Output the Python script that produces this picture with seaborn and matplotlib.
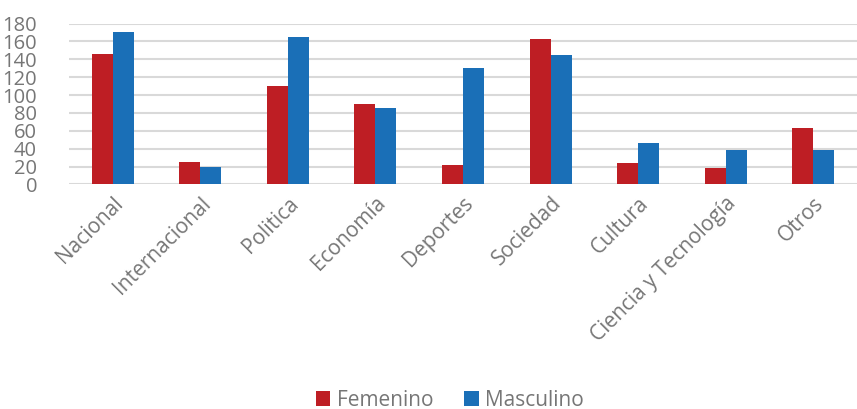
import pandas as pd
import matplotlib.pyplot as plt
import seaborn as sns

# datos
categorias = ['Nacional', 'Internacional', 'Politica', 'Economía', 'Deportes',
              'Sociedad', 'Cultura', 'Ciencia y Tecnología', 'Otros']
femenino = [146, 25, 110, 90, 22, 163, 24, 18, 63]
masculino = [171, 19, 165, 85, 130, 145, 46, 39, 39]
series = ['Femenino', 'Masculino']
colores = ['#BE1E24', '#1A6FB7']

df = pd.DataFrame({
    'categoria': categorias * 2,
    'valor': femenino + masculino,
    'genero': [series[0]] * len(categorias) + [series[1]] * len(categorias),
})

sns.set_style('white')
plt.rcParams['font.family'] = ['Open Sans', 'DejaVu Sans']

fig = plt.figure(figsize=(8.57, 4.09), dpi=100)
ax = fig.add_axes([0.0805, 0.549, 0.9195, 0.3935])

sns.barplot(data=df, x='categoria', y='valor', hue='genero', palette=colores,
            saturation=1, width=0.48, ax=ax, edgecolor='none', legend=True)

ax.set_ylim(0, 180)
ax.set_yticks(range(0, 181, 20))
ax.set_xlim(-0.5, len(categorias) - 0.5)
ax.yaxis.grid(True, color='#D9D9D9', linewidth=1.5)
ax.set_axisbelow(True)
for s in ax.spines.values():
    s.set_visible(False)
ax.set_xlabel('')
ax.set_ylabel('')
ax.tick_params(axis='both', length=0, labelcolor='#767676')
ax.tick_params(axis='y', pad=23, labelsize=14.5)
ax.tick_params(axis='x', pad=6, labelsize=15)
plt.setp(ax.get_xticklabels(), rotation=45, ha='right', rotation_mode='anchor')

handles, labels = ax.get_legend_handles_labels()
ax.get_legend().remove()
fig.legend(handles, labels, loc='lower center', bbox_to_anchor=(0.525, -0.05),
           ncol=2, frameon=False, fontsize=15, labelcolor='#767676',
           handlelength=0.7, handleheight=0.7, handletextpad=0.3, columnspacing=1.5)

fig.savefig('out.png', dpi=100)
plt.close()
